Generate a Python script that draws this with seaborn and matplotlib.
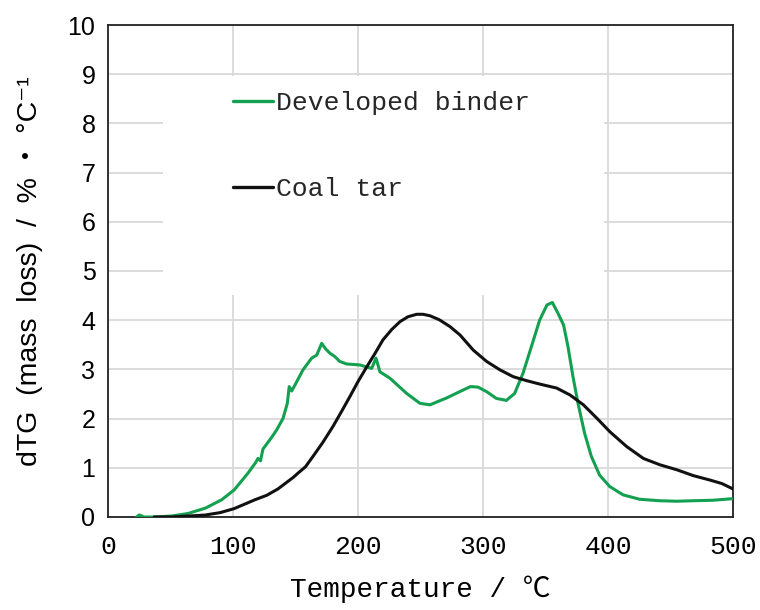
import pandas as pd
import matplotlib
matplotlib.use("Agg")
import matplotlib.pyplot as plt
from matplotlib.patches import Rectangle
import seaborn as sns

# Developed binder dTG curve (temperature in °C, mass loss rate in %/°C)
binder_temp = [23, 25, 29, 38, 51, 64, 78, 91, 101, 112, 118, 120, 122, 124, 131, 135, 140,
               143.5, 145, 147, 150, 156, 163, 167, 171, 174, 177.5, 181.5, 185.5, 191, 201.5,
               211, 214.4, 217.6, 225.6, 239, 249.6, 257.6, 271, 281.6, 290, 296, 302.7, 310.7,
               318.7, 325.3, 332, 338.7, 345.3, 351.2, 355.5, 360, 364.5, 368, 372, 376,
               381.3, 386.7, 393.3, 401.3, 412, 425.3, 441.3, 455, 468, 484, 498.7, 500]
binder_dtg = [0.0, 0.04, 0.0, 0.0, 0.02, 0.07, 0.18, 0.35, 0.55, 0.89, 1.10, 1.19, 1.14,
              1.38, 1.62, 1.77, 2.00, 2.31, 2.65, 2.56, 2.70, 2.99, 3.23, 3.29, 3.53, 3.42,
              3.33, 3.26, 3.16, 3.11, 3.09, 3.02, 3.23, 2.95, 2.82, 2.51, 2.31, 2.28, 2.42,
              2.55, 2.65, 2.64, 2.55, 2.41, 2.37, 2.51, 2.92, 3.46, 4.00, 4.31, 4.36, 4.14,
              3.90, 3.46, 2.85, 2.31, 1.70, 1.23, 0.85, 0.62, 0.45, 0.36, 0.33, 0.32, 0.33,
              0.34, 0.37, 0.37]

# Coal tar dTG curve
tar_temp = [37, 51, 65, 78, 90, 101, 117.6, 127, 136, 148, 152, 158, 164, 172, 180, 187,
            193.6, 200, 207, 214, 220, 227, 233.6, 240, 247, 252, 257.6, 265, 273.6, 281.6,
            292.3, 303, 313.6, 324.3, 335, 345.6, 359, 369.6, 380.3, 391, 401.6, 415, 428.3,
            441.6, 455, 468.3, 481.6, 491, 500]
tar_dtg = [0.0, 0.0, 0.02, 0.04, 0.09, 0.17, 0.35, 0.44, 0.57, 0.80, 0.89, 1.02, 1.23,
           1.52, 1.84, 2.15, 2.45, 2.75, 3.05, 3.34, 3.60, 3.81, 3.97, 4.07, 4.12, 4.12,
           4.09, 4.01, 3.87, 3.70, 3.39, 3.16, 2.99, 2.85, 2.77, 2.70, 2.62, 2.48, 2.28,
           2.01, 1.73, 1.43, 1.19, 1.06, 0.96, 0.84, 0.75, 0.68, 0.57]

series_names = ["Developed binder", "Coal tar"]
series_colors = ["#13a050", "#111111"]

x_ticks = [0, 100, 200, 300, 400, 500]
y_ticks = list(range(0, 11))

df = pd.concat([
    pd.DataFrame({"T": binder_temp, "dTG": binder_dtg, "sample": series_names[0]}),
    pd.DataFrame({"T": tar_temp, "dTG": tar_dtg, "sample": series_names[1]}),
], ignore_index=True)

sns.set_theme(style="white")
mono = ["Liberation Mono", "Noto Sans CJK JP", "DejaVu Sans"]
sans = ["Liberation Sans", "Noto Sans CJK JP", "DejaVu Sans"]

fig = plt.figure(figsize=(7.6, 6.1), dpi=100)
ax = fig.add_axes([0.142, 0.1525, 0.8225, 0.8065])

ax.grid(True, color="#d9d9d9", linewidth=1.3, zorder=0)
ax.set_axisbelow(True)

# white panel behind the legend entries
ax.add_patch(Rectangle((0.088, 0.451), 0.706, 0.445, transform=ax.transAxes,
                       facecolor="white", edgecolor="none", zorder=1.5))

sns.lineplot(data=df, x="T", y="dTG", hue="sample", palette=series_colors,
             hue_order=series_names, estimator=None, sort=True, linewidth=2.2,
             ax=ax, zorder=3)

ax.set_xlim(0, 500)
ax.set_ylim(0, 10)
ax.set_xticks(x_ticks)
ax.set_yticks(y_ticks)
ax.set_xticklabels([str(v) for v in x_ticks], family=mono, fontsize=19)
ax.set_yticklabels([str(v) for v in y_ticks], family=sans, fontsize=18)
ax.tick_params(axis="x", length=0, pad=13, colors="black")
ax.tick_params(axis="y", length=0, pad=9, colors="black")

for sp in ax.spines.values():
    sp.set_color("#222222")
    sp.set_linewidth(1.3)
    sp.set_visible(True)

ax.set_xlabel("Temperature / ℃", family=mono, fontsize=20, labelpad=12, color="black")
ax.set_ylabel("dTG  (mass  loss)  /  % ・ °C⁻¹", family=sans, fontsize=20.5,
              labelpad=18, color="black")

leg = ax.legend(loc="upper left", bbox_to_anchor=(0.2, 0.865), frameon=False,
                prop={"family": mono, "size": 19}, handlelength=1.5,
                handletextpad=0.15, labelspacing=2.33, borderpad=0, borderaxespad=0)
for h in leg.get_lines():
    h.set_linewidth(2.4)

fig.savefig("out.png", dpi=100)
